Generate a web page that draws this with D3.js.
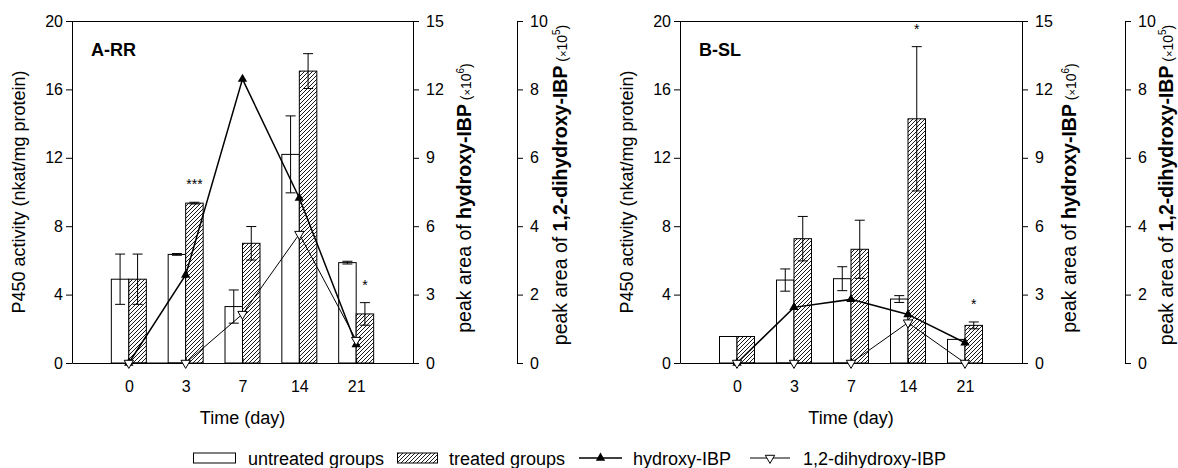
<!DOCTYPE html>
<html><head><meta charset="utf-8">
<script src="https://cdn.jsdelivr.net/npm/d3@7"></script>
<style>
body{margin:0;background:#fff}
svg{display:block}
text{font-family:"Liberation Sans",Arial,Helvetica,sans-serif;fill:#000}
</style>
</head><body><svg id="chart" width="1178" height="468"></svg>
<script>
// ---------- data ----------
const days = ["0", "3", "7", "14", "21"];
const activityTicks = [0, 4, 8, 12, 16, 20];
const hydroxyTicks = [0, 3, 6, 9, 12, 15];
const dihydroxyTicks = [0, 2, 4, 6, 8, 10];

// Panel A-RR
const untreatedA = [4.9, 6.35, 3.3, 12.2, 5.87];
const untreatedErrA = [1.47, 0.05, 0.97, 2.25, 0.08];
const treatedA = [4.9, 9.35, 7.0, 17.07, 2.87];
const treatedErrA = [1.47, 0.05, 0.98, 1.02, 0.66];
const hydroxyA = [0, 3.86, 12.45, 7.24, 0.81];
const dihydroxyA = [0, 0, 1.43, 3.77, 0.67];
const signifA = ["", "***", "", "", "*"];

// Panel B-SL
const untreatedB = [1.55, 4.85, 4.93, 3.74, 1.38];
const untreatedErrB = [0, 0.65, 0.7, 0.2, 0];
const treatedB = [1.55, 7.27, 6.65, 14.28, 2.2];
const treatedErrB = [0, 1.3, 1.7, 4.22, 0.2];
const hydroxyB = [0, 2.44, 2.79, 2.13, 0.89];
const dihydroxyB = [0, 0, 0, 1.18, 0];
const signifB = ["", "", "", "*", "*"];

const panelTitles = ["A-RR", "B-SL"];
const legendLabels = ["untreated groups", "treated groups", "hydroxy-IBP", "1,2-dihydroxy-IBP"];

// ---------- layout ----------
const svg = d3.select("#chart");
const FONT = '"Liberation Sans",Arial,Helvetica,sans-serif';
const yTop = 21, yBot = 363;
const panels = [
  {title: panelTitles[0], L: 72, R: 413, T: 517, leftTitleX: 25, hTitleX: 471, dTitleX: 567,
   untreated: untreatedA, uErr: untreatedErrA, treated: treatedA, tErr: treatedErrA,
   hydroxy: hydroxyA, dihydroxy: dihydroxyA, signif: signifA},
  {title: panelTitles[1], L: 680, R: 1022, T: 1125, leftTitleX: 633, hTitleX: 1076, dTitleX: 1173,
   untreated: untreatedB, uErr: untreatedErrB, treated: treatedB, tErr: treatedErrB,
   hydroxy: hydroxyB, dihydroxy: dihydroxyB, signif: signifB}
];

// hatch pattern
const defs = svg.append("defs");
const pat = defs.append("pattern").attr("id", "hatch").attr("patternUnits", "userSpaceOnUse")
  .attr("width", 4).attr("height", 4);
pat.append("rect").attr("width", 4).attr("height", 4).attr("fill", "#fff");
pat.append("path").attr("d", "M-1,1 l2,-2 M0,4 l4,-4 M3,5 l2,-2")
  .attr("stroke", "#000").attr("stroke-width", 0.9);

const bw = 17.5;
const triUp = d3.symbol().type(d3.symbolTriangle).size(38);

function styleAxis(g) {
  g.attr("font-size", 16).attr("font-family", FONT);
  g.selectAll("path,line").attr("stroke", "#000");
  g.selectAll("text").attr("fill", "#000");
}

panels.forEach(p => {
  const g = svg.append("g");
  const x = d3.scalePoint().domain(days).range([p.L, p.R]).padding(1);
  const y = d3.scaleLinear().domain([0, 20]).range([yBot, yTop]);
  const yH = d3.scaleLinear().domain([0, 15]).range([yBot, yTop]);
  const yD = d3.scaleLinear().domain([0, 10]).range([yBot, yTop]);

  // bars
  const ug = g.append("g");
  ug.selectAll("rect").data(days).join("rect")
    .attr("x", (d) => x(d) - bw).attr("width", bw)
    .attr("y", (d, i) => y(p.untreated[i])).attr("height", (d, i) => y(0) - y(p.untreated[i]))
    .attr("fill", "#fff").attr("stroke", "#000").attr("stroke-width", 1);
  const tg = g.append("g");
  tg.selectAll("rect").data(days).join("rect")
    .attr("x", (d) => x(d)).attr("width", bw)
    .attr("y", (d, i) => y(p.treated[i])).attr("height", (d, i) => y(0) - y(p.treated[i]))
    .attr("fill", "url(#hatch)").attr("stroke", "#000").attr("stroke-width", 1);

  // error bars
  function errBars(vals, errs, off) {
    const eg = g.append("g").attr("stroke", "#000").attr("stroke-width", 1);
    days.forEach((d, i) => {
      if (!errs[i]) return;
      const cx = x(d) + off;
      const y1 = y(vals[i] + errs[i]), y2 = y(vals[i] - errs[i]);
      eg.append("line").attr("x1", cx).attr("x2", cx).attr("y1", y1).attr("y2", y2);
      eg.append("line").attr("x1", cx - 5).attr("x2", cx + 5).attr("y1", y1).attr("y2", y1);
      eg.append("line").attr("x1", cx - 5).attr("x2", cx + 5).attr("y1", y2).attr("y2", y2);
    });
  }
  errBars(p.untreated, p.uErr, -bw / 2);
  errBars(p.treated, p.tErr, bw / 2);

  // significance
  g.append("g").selectAll("text").data(days).join("text")
    .attr("x", (d) => x(d) + bw / 2)
    .attr("y", (d, i) => y(p.treated[i] + p.tErr[i]) - 13)
    .attr("text-anchor", "middle").attr("font-size", 14)
    .text((d, i) => p.signif[i]);

  // frame top line
  g.append("line").attr("x1", p.L).attr("x2", p.R).attr("y1", yTop + 0.5).attr("y2", yTop + 0.5)
    .attr("stroke", "#000");

  // axes
  const ax = g.append("g").attr("transform", `translate(0,${yBot})`)
    .call(d3.axisBottom(x).tickSizeInner(-5).tickSizeOuter(0).tickPadding(18));
  styleAxis(ax);
  const ayl = g.append("g").attr("transform", `translate(${p.L},0)`)
    .call(d3.axisLeft(y).tickValues(activityTicks).tickSizeInner(6).tickSizeOuter(0).tickPadding(3));
  styleAxis(ayl);
  const ayh = g.append("g").attr("transform", `translate(${p.R},0)`)
    .call(d3.axisRight(yH).tickValues(hydroxyTicks).tickSizeInner(6).tickSizeOuter(0).tickPadding(7));
  styleAxis(ayh);
  const ayd = g.append("g").attr("transform", `translate(${p.T},0)`)
    .call(d3.axisRight(yD).tickValues(dihydroxyTicks).tickSizeInner(6).tickSizeOuter(0).tickPadding(7));
  styleAxis(ayd);

  // lines
  const lineH = d3.line().x((d, i) => x(days[i])).y(d => yH(d));
  const lineD = d3.line().x((d, i) => x(days[i])).y(d => yD(d));
  g.append("path").datum(p.hydroxy).attr("d", lineH).attr("fill", "none")
    .attr("stroke", "#000").attr("stroke-width", 1.5);
  g.append("path").datum(p.dihydroxy).attr("d", lineD).attr("fill", "none")
    .attr("stroke", "#000").attr("stroke-width", 1);
  g.append("g").selectAll("path").data(p.hydroxy).join("path")
    .attr("d", triUp).attr("transform", (d, i) => `translate(${x(days[i])},${yH(d)})`)
    .attr("fill", "#000");
  g.append("g").selectAll("path").data(p.dihydroxy).join("path")
    .attr("d", triUp).attr("transform", (d, i) => `translate(${x(days[i])},${yD(d)}) rotate(180)`)
    .attr("fill", "#fff").attr("stroke", "#000").attr("stroke-width", 1);

  // titles
  g.append("text").attr("x", p.L + 19).attr("y", 56).attr("font-size", 18)
    .attr("font-weight", "bold").text(p.title);
  g.append("text").attr("x", (p.L + p.R) / 2).attr("y", 424).attr("text-anchor", "middle")
    .attr("font-size", 18).text("Time (day)");
  g.append("text").attr("transform", `translate(${p.leftTitleX},${(yTop + yBot) / 2}) rotate(-90)`)
    .attr("text-anchor", "middle").attr("font-size", 18).text("P450 activity (nkat/mg protein)");

  function sideTitle(tx, cy, bold, exp) {
    const t = g.append("text").attr("transform", `translate(${tx},${cy}) rotate(-90)`)
      .attr("text-anchor", "middle").attr("font-size", 19.5);
    t.append("tspan").text("peak area of ");
    t.append("tspan").attr("font-weight", "bold").text(bold);
    t.append("tspan").attr("font-size", 14).text(" (");
    t.append("tspan").attr("font-size", 11).text("\u00d7");
    t.append("tspan").attr("font-size", 14).text("10");
    t.append("tspan").attr("font-size", 10).attr("dy", -7).text(exp);
    t.append("tspan").attr("font-size", 14).attr("dy", 7).text(")");
  }
  sideTitle(p.hTitleX, 198, "hydroxy-IBP", "6");
  sideTitle(p.dTitleX, 185, "1,2-dihydroxy-IBP", "5");
});

// ---------- legend ----------
const lg = svg.append("g").attr("font-size", 18);
const ly = 458;
lg.append("rect").attr("x", 193.5).attr("y", ly - 5).attr("width", 42).attr("height", 10)
  .attr("fill", "#fff").attr("stroke", "#000");
lg.append("text").attr("x", 248).attr("y", ly + 6.5).text(legendLabels[0]);
lg.append("rect").attr("x", 397.5).attr("y", ly - 5).attr("width", 40).attr("height", 10)
  .attr("fill", "url(#hatch)").attr("stroke", "#000");
lg.append("text").attr("x", 449).attr("y", ly + 6.5).text(legendLabels[1]);
lg.append("line").attr("x1", 579).attr("x2", 622).attr("y1", ly).attr("y2", ly)
  .attr("stroke", "#000").attr("stroke-width", 1.5);
lg.append("path").attr("d", triUp).attr("transform", `translate(600.5,${ly})`).attr("fill", "#000");
lg.append("text").attr("x", 633).attr("y", ly + 6.5).text(legendLabels[2]);
lg.append("line").attr("x1", 750).attr("x2", 790).attr("y1", ly).attr("y2", ly)
  .attr("stroke", "#000").attr("stroke-width", 1);
lg.append("path").attr("d", triUp).attr("transform", `translate(770,${ly}) rotate(180)`)
  .attr("fill", "#fff").attr("stroke", "#000");
lg.append("text").attr("x", 803).attr("y", ly + 6.5).text(legendLabels[3]);
</script>
</body></html>
